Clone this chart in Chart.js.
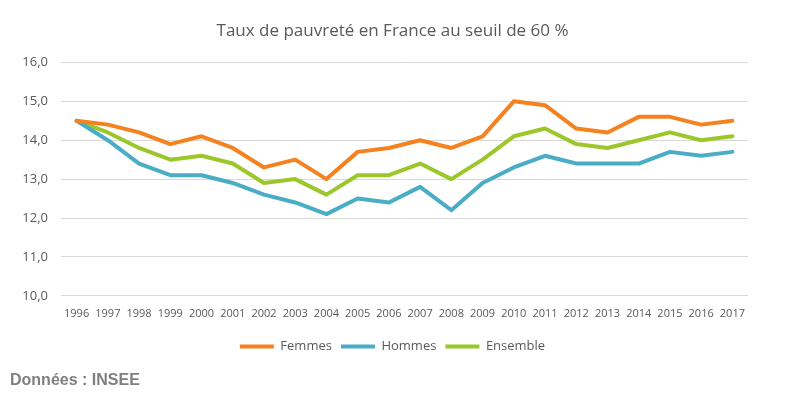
<!DOCTYPE html>
<html>
<head>
<meta charset="utf-8">
<script src="https://cdn.jsdelivr.net/npm/chart.js@4"></script>
<style>
  html, body { margin: 0; padding: 0; background: #ffffff; }
  #wrap { position: relative; width: 785px; height: 397px; }
  #source { position: absolute; left: 10px; top: 371px; font: bold 16px "Liberation Sans", Arial, sans-serif; color: #7f7f7f; }
</style>
</head>
<body>
<div id="wrap">
  <canvas id="c" width="785" height="397"></canvas>
  <div id="source">Données : INSEE</div>
</div>
<script>
const years = ["1996","1997","1998","1999","2000","2001","2002","2003","2004","2005","2006","2007","2008","2009","2010","2011","2012","2013","2014","2015","2016","2017"];
const femmes =   [14.5,14.4,14.2,13.9,14.1,13.8,13.3,13.5,13.0,13.7,13.8,14.0,13.8,14.1,15.0,14.9,14.3,14.2,14.6,14.6,14.4,14.5];
const hommes =   [14.5,14.0,13.4,13.1,13.1,12.9,12.6,12.4,12.1,12.5,12.4,12.8,12.2,12.9,13.3,13.6,13.4,13.4,13.4,13.7,13.6,13.7];
const ensemble = [14.5,14.2,13.8,13.5,13.6,13.4,12.9,13.0,12.6,13.1,13.1,13.4,13.0,13.5,14.1,14.3,13.9,13.8,14.0,14.2,14.0,14.1];
const seriesNames = ["Femmes","Hommes","Ensemble"];
const colors = ["#F5821F","#4BACC6","#9BC72B"];

function ds(label, data, color) {
  return { label, data, borderColor: color, backgroundColor: color, borderWidth: 4,
           pointRadius: 0, pointHoverRadius: 0, tension: 0, borderCapStyle: 'round', borderJoinStyle: 'round' };
}

new Chart(document.getElementById('c'), {
  type: 'line',
  data: {
    labels: years,
    datasets: [ds(seriesNames[0], femmes, colors[0]), ds(seriesNames[1], hommes, colors[1]), ds(seriesNames[2], ensemble, colors[2])]
  },
  options: {
    responsive: false,
    animation: false,
    events: [],
    layout: { padding: { left: 0, right: 0, top: 0, bottom: 34 } },
    plugins: {
      title: {
        display: true,
        text: 'Taux de pauvreté en France au seuil de 60 %',
        color: '#595959',
        font: { family: '"Open Sans", sans-serif', size: 17, weight: '500' },
        padding: { top: 21, bottom: 21 }
      },
      legend: {
        position: 'bottom',
        labels: {
          usePointStyle: true,
          pointStyle: 'line',
          pointStyleWidth: 34,
          boxHeight: 13,
          color: '#595959',
          padding: 9,
          font: { family: '"Open Sans", sans-serif', size: 13 }
        }
      },
      tooltip: { enabled: false }
    },
    scales: {
      x: {
        offset: true,
        grid: { display: false, drawTicks: false },
        border: { display: false },
        ticks: { color: '#595959', font: { family: '"Open Sans", sans-serif', size: 11 }, padding: 11, maxRotation: 0, autoSkip: false }
      },
      y: {
        min: 10, max: 16,
        grid: { color: '#D9D9D9', lineWidth: 1, drawTicks: false },
        border: { display: false },
        ticks: { stepSize: 1, color: '#595959', font: { family: '"Open Sans", sans-serif', size: 13 }, padding: 13,
                 callback: v => Number(v).toFixed(1).replace('.', ',') },
        afterFit: s => { s.width = 61; }
      },
      yRight: {
        position: 'right',
        min: 10, max: 16,
        grid: { display: false, drawTicks: false },
        border: { display: false },
        ticks: { display: false },
        afterFit: s => { s.width = 37; }
      }
    }
  }
});
</script>
</body>
</html>
